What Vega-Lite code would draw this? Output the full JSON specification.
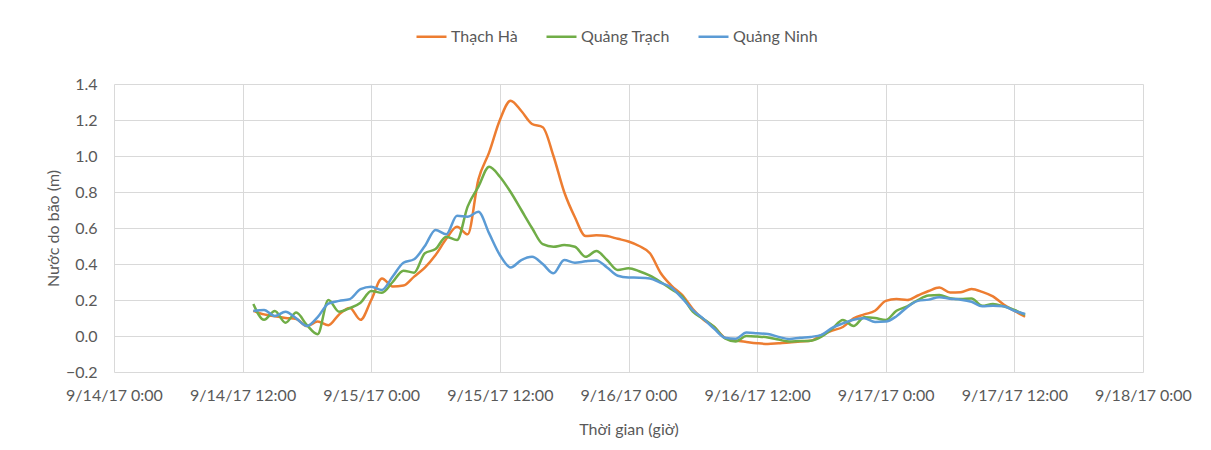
{
  "$schema": "https://vega.github.io/schema/vega-lite/v6.json",
  "width": 1029,
  "height": 288,
  "autosize": "none",
  "padding": {"left": 114, "top": 84, "right": 68, "bottom": 78},
  "background": "white",
  "config": {
    "font": "Lato",
    "view": {"stroke": null},
    "axis": {"labelFont": "Lato", "titleFont": "Lato", "labelColor": "#595959", "titleColor": "#595959", "labelFontSize": 16, "titleFontSize": 16, "titleFontWeight": "normal", "gridColor": "#d9d9d9", "gridWidth": 1, "domain": false, "ticks": false}
  },
  "data": {"values": [
    {"time":"2017-09-14T13:00","station":"Thạch Hà","level":0.14},
    {"time":"2017-09-14T14:00","station":"Thạch Hà","level":0.12},
    {"time":"2017-09-14T15:00","station":"Thạch Hà","level":0.11},
    {"time":"2017-09-14T16:00","station":"Thạch Hà","level":0.10},
    {"time":"2017-09-14T17:00","station":"Thạch Hà","level":0.095},
    {"time":"2017-09-14T18:00","station":"Thạch Hà","level":0.055},
    {"time":"2017-09-14T19:00","station":"Thạch Hà","level":0.08},
    {"time":"2017-09-14T20:00","station":"Thạch Hà","level":0.06},
    {"time":"2017-09-14T21:00","station":"Thạch Hà","level":0.12},
    {"time":"2017-09-14T22:00","station":"Thạch Hà","level":0.155},
    {"time":"2017-09-14T23:00","station":"Thạch Hà","level":0.09},
    {"time":"2017-09-15T00:00","station":"Thạch Hà","level":0.20},
    {"time":"2017-09-15T01:00","station":"Thạch Hà","level":0.32},
    {"time":"2017-09-15T02:00","station":"Thạch Hà","level":0.275},
    {"time":"2017-09-15T03:00","station":"Thạch Hà","level":0.28},
    {"time":"2017-09-15T04:00","station":"Thạch Hà","level":0.33},
    {"time":"2017-09-15T05:00","station":"Thạch Hà","level":0.38},
    {"time":"2017-09-15T06:00","station":"Thạch Hà","level":0.45},
    {"time":"2017-09-15T07:00","station":"Thạch Hà","level":0.54},
    {"time":"2017-09-15T08:00","station":"Thạch Hà","level":0.607},
    {"time":"2017-09-15T09:00","station":"Thạch Hà","level":0.565},
    {"time":"2017-09-15T10:00","station":"Thạch Hà","level":0.87},
    {"time":"2017-09-15T11:00","station":"Thạch Hà","level":1.02},
    {"time":"2017-09-15T12:00","station":"Thạch Hà","level":1.20},
    {"time":"2017-09-15T13:00","station":"Thạch Hà","level":1.307},
    {"time":"2017-09-15T14:00","station":"Thạch Hà","level":1.25},
    {"time":"2017-09-15T15:00","station":"Thạch Hà","level":1.178},
    {"time":"2017-09-15T16:00","station":"Thạch Hà","level":1.16},
    {"time":"2017-09-15T17:00","station":"Thạch Hà","level":1.00},
    {"time":"2017-09-15T18:00","station":"Thạch Hà","level":0.80},
    {"time":"2017-09-15T19:00","station":"Thạch Hà","level":0.66},
    {"time":"2017-09-15T20:00","station":"Thạch Hà","level":0.555},
    {"time":"2017-09-15T21:00","station":"Thạch Hà","level":0.56},
    {"time":"2017-09-15T22:00","station":"Thạch Hà","level":0.555},
    {"time":"2017-09-15T23:00","station":"Thạch Hà","level":0.54},
    {"time":"2017-09-16T00:00","station":"Thạch Hà","level":0.525},
    {"time":"2017-09-16T01:00","station":"Thạch Hà","level":0.50},
    {"time":"2017-09-16T02:00","station":"Thạch Hà","level":0.46},
    {"time":"2017-09-16T03:00","station":"Thạch Hà","level":0.35},
    {"time":"2017-09-16T04:00","station":"Thạch Hà","level":0.28},
    {"time":"2017-09-16T05:00","station":"Thạch Hà","level":0.228},
    {"time":"2017-09-16T06:00","station":"Thạch Hà","level":0.15},
    {"time":"2017-09-16T07:00","station":"Thạch Hà","level":0.09},
    {"time":"2017-09-16T08:00","station":"Thạch Hà","level":0.05},
    {"time":"2017-09-16T09:00","station":"Thạch Hà","level":-0.01},
    {"time":"2017-09-16T10:00","station":"Thạch Hà","level":-0.025},
    {"time":"2017-09-16T11:00","station":"Thạch Hà","level":-0.033},
    {"time":"2017-09-16T12:00","station":"Thạch Hà","level":-0.04},
    {"time":"2017-09-16T13:00","station":"Thạch Hà","level":-0.044},
    {"time":"2017-09-16T14:00","station":"Thạch Hà","level":-0.04},
    {"time":"2017-09-16T15:00","station":"Thạch Hà","level":-0.036},
    {"time":"2017-09-16T16:00","station":"Thạch Hà","level":-0.03},
    {"time":"2017-09-16T17:00","station":"Thạch Hà","level":-0.026},
    {"time":"2017-09-16T18:00","station":"Thạch Hà","level":0.005},
    {"time":"2017-09-16T19:00","station":"Thạch Hà","level":0.03},
    {"time":"2017-09-16T20:00","station":"Thạch Hà","level":0.05},
    {"time":"2017-09-16T21:00","station":"Thạch Hà","level":0.098},
    {"time":"2017-09-16T22:00","station":"Thạch Hà","level":0.12},
    {"time":"2017-09-16T23:00","station":"Thạch Hà","level":0.14},
    {"time":"2017-09-17T00:00","station":"Thạch Hà","level":0.195},
    {"time":"2017-09-17T01:00","station":"Thạch Hà","level":0.205},
    {"time":"2017-09-17T02:00","station":"Thạch Hà","level":0.20},
    {"time":"2017-09-17T03:00","station":"Thạch Hà","level":0.225},
    {"time":"2017-09-17T04:00","station":"Thạch Hà","level":0.25},
    {"time":"2017-09-17T05:00","station":"Thạch Hà","level":0.269},
    {"time":"2017-09-17T06:00","station":"Thạch Hà","level":0.241},
    {"time":"2017-09-17T07:00","station":"Thạch Hà","level":0.243},
    {"time":"2017-09-17T08:00","station":"Thạch Hà","level":0.261},
    {"time":"2017-09-17T09:00","station":"Thạch Hà","level":0.245},
    {"time":"2017-09-17T10:00","station":"Thạch Hà","level":0.22},
    {"time":"2017-09-17T11:00","station":"Thạch Hà","level":0.175},
    {"time":"2017-09-17T12:00","station":"Thạch Hà","level":0.14},
    {"time":"2017-09-17T13:00","station":"Thạch Hà","level":0.107},
    {"time":"2017-09-14T13:00","station":"Quảng Trạch","level":0.178},
    {"time":"2017-09-14T14:00","station":"Quảng Trạch","level":0.09},
    {"time":"2017-09-14T15:00","station":"Quảng Trạch","level":0.139},
    {"time":"2017-09-14T16:00","station":"Quảng Trạch","level":0.074},
    {"time":"2017-09-14T17:00","station":"Quảng Trạch","level":0.13},
    {"time":"2017-09-14T18:00","station":"Quảng Trạch","level":0.06},
    {"time":"2017-09-14T19:00","station":"Quảng Trạch","level":0.01},
    {"time":"2017-09-14T20:00","station":"Quảng Trạch","level":0.20},
    {"time":"2017-09-14T21:00","station":"Quảng Trạch","level":0.135},
    {"time":"2017-09-14T22:00","station":"Quảng Trạch","level":0.155},
    {"time":"2017-09-14T23:00","station":"Quảng Trạch","level":0.185},
    {"time":"2017-09-15T00:00","station":"Quảng Trạch","level":0.25},
    {"time":"2017-09-15T01:00","station":"Quảng Trạch","level":0.24},
    {"time":"2017-09-15T02:00","station":"Quảng Trạch","level":0.30},
    {"time":"2017-09-15T03:00","station":"Quảng Trạch","level":0.363},
    {"time":"2017-09-15T04:00","station":"Quảng Trạch","level":0.352},
    {"time":"2017-09-15T05:00","station":"Quảng Trạch","level":0.46},
    {"time":"2017-09-15T06:00","station":"Quảng Trạch","level":0.483},
    {"time":"2017-09-15T07:00","station":"Quảng Trạch","level":0.552},
    {"time":"2017-09-15T08:00","station":"Quảng Trạch","level":0.533},
    {"time":"2017-09-15T09:00","station":"Quảng Trạch","level":0.72},
    {"time":"2017-09-15T10:00","station":"Quảng Trạch","level":0.83},
    {"time":"2017-09-15T11:00","station":"Quảng Trạch","level":0.94},
    {"time":"2017-09-15T12:00","station":"Quảng Trạch","level":0.885},
    {"time":"2017-09-15T13:00","station":"Quảng Trạch","level":0.80},
    {"time":"2017-09-15T14:00","station":"Quảng Trạch","level":0.70},
    {"time":"2017-09-15T15:00","station":"Quảng Trạch","level":0.60},
    {"time":"2017-09-15T16:00","station":"Quảng Trạch","level":0.51},
    {"time":"2017-09-15T17:00","station":"Quảng Trạch","level":0.496},
    {"time":"2017-09-15T18:00","station":"Quảng Trạch","level":0.505},
    {"time":"2017-09-15T19:00","station":"Quảng Trạch","level":0.496},
    {"time":"2017-09-15T20:00","station":"Quảng Trạch","level":0.44},
    {"time":"2017-09-15T21:00","station":"Quảng Trạch","level":0.472},
    {"time":"2017-09-15T22:00","station":"Quảng Trạch","level":0.422},
    {"time":"2017-09-15T23:00","station":"Quảng Trạch","level":0.367},
    {"time":"2017-09-16T00:00","station":"Quảng Trạch","level":0.376},
    {"time":"2017-09-16T01:00","station":"Quảng Trạch","level":0.36},
    {"time":"2017-09-16T02:00","station":"Quảng Trạch","level":0.335},
    {"time":"2017-09-16T03:00","station":"Quảng Trạch","level":0.30},
    {"time":"2017-09-16T04:00","station":"Quảng Trạch","level":0.26},
    {"time":"2017-09-16T05:00","station":"Quảng Trạch","level":0.22},
    {"time":"2017-09-16T06:00","station":"Quảng Trạch","level":0.135},
    {"time":"2017-09-16T07:00","station":"Quảng Trạch","level":0.095},
    {"time":"2017-09-16T08:00","station":"Quảng Trạch","level":0.05},
    {"time":"2017-09-16T09:00","station":"Quảng Trạch","level":-0.013},
    {"time":"2017-09-16T10:00","station":"Quảng Trạch","level":-0.03},
    {"time":"2017-09-16T11:00","station":"Quảng Trạch","level":0.0},
    {"time":"2017-09-16T12:00","station":"Quảng Trạch","level":-0.003},
    {"time":"2017-09-16T13:00","station":"Quảng Trạch","level":-0.008},
    {"time":"2017-09-16T14:00","station":"Quảng Trạch","level":-0.02},
    {"time":"2017-09-16T15:00","station":"Quảng Trạch","level":-0.031},
    {"time":"2017-09-16T16:00","station":"Quảng Trạch","level":-0.028},
    {"time":"2017-09-16T17:00","station":"Quảng Trạch","level":-0.026},
    {"time":"2017-09-16T18:00","station":"Quảng Trạch","level":-0.004},
    {"time":"2017-09-16T19:00","station":"Quảng Trạch","level":0.04},
    {"time":"2017-09-16T20:00","station":"Quảng Trạch","level":0.089},
    {"time":"2017-09-16T21:00","station":"Quảng Trạch","level":0.056},
    {"time":"2017-09-16T22:00","station":"Quảng Trạch","level":0.104},
    {"time":"2017-09-16T23:00","station":"Quảng Trạch","level":0.10},
    {"time":"2017-09-17T00:00","station":"Quảng Trạch","level":0.089},
    {"time":"2017-09-17T01:00","station":"Quảng Trạch","level":0.14},
    {"time":"2017-09-17T02:00","station":"Quảng Trạch","level":0.165},
    {"time":"2017-09-17T03:00","station":"Quảng Trạch","level":0.20},
    {"time":"2017-09-17T04:00","station":"Quảng Trạch","level":0.225},
    {"time":"2017-09-17T05:00","station":"Quảng Trạch","level":0.228},
    {"time":"2017-09-17T06:00","station":"Quảng Trạch","level":0.21},
    {"time":"2017-09-17T07:00","station":"Quảng Trạch","level":0.205},
    {"time":"2017-09-17T08:00","station":"Quảng Trạch","level":0.209},
    {"time":"2017-09-17T09:00","station":"Quảng Trạch","level":0.168},
    {"time":"2017-09-17T10:00","station":"Quảng Trạch","level":0.178},
    {"time":"2017-09-17T11:00","station":"Quảng Trạch","level":0.165},
    {"time":"2017-09-17T12:00","station":"Quảng Trạch","level":0.145},
    {"time":"2017-09-17T13:00","station":"Quảng Trạch","level":0.117},
    {"time":"2017-09-14T13:00","station":"Quảng Ninh","level":0.139},
    {"time":"2017-09-14T14:00","station":"Quảng Ninh","level":0.145},
    {"time":"2017-09-14T15:00","station":"Quảng Ninh","level":0.111},
    {"time":"2017-09-14T16:00","station":"Quảng Ninh","level":0.135},
    {"time":"2017-09-14T17:00","station":"Quảng Ninh","level":0.098},
    {"time":"2017-09-14T18:00","station":"Quảng Ninh","level":0.056},
    {"time":"2017-09-14T19:00","station":"Quảng Ninh","level":0.105},
    {"time":"2017-09-14T20:00","station":"Quảng Ninh","level":0.18},
    {"time":"2017-09-14T21:00","station":"Quảng Ninh","level":0.195},
    {"time":"2017-09-14T22:00","station":"Quảng Ninh","level":0.205},
    {"time":"2017-09-14T23:00","station":"Quảng Ninh","level":0.26},
    {"time":"2017-09-15T00:00","station":"Quảng Ninh","level":0.274},
    {"time":"2017-09-15T01:00","station":"Quảng Ninh","level":0.256},
    {"time":"2017-09-15T02:00","station":"Quảng Ninh","level":0.33},
    {"time":"2017-09-15T03:00","station":"Quảng Ninh","level":0.407},
    {"time":"2017-09-15T04:00","station":"Quảng Ninh","level":0.426},
    {"time":"2017-09-15T05:00","station":"Quảng Ninh","level":0.50},
    {"time":"2017-09-15T06:00","station":"Quảng Ninh","level":0.589},
    {"time":"2017-09-15T07:00","station":"Quảng Ninh","level":0.565},
    {"time":"2017-09-15T08:00","station":"Quảng Ninh","level":0.668},
    {"time":"2017-09-15T09:00","station":"Quảng Ninh","level":0.663},
    {"time":"2017-09-15T10:00","station":"Quảng Ninh","level":0.69},
    {"time":"2017-09-15T11:00","station":"Quảng Ninh","level":0.57},
    {"time":"2017-09-15T12:00","station":"Quảng Ninh","level":0.45},
    {"time":"2017-09-15T13:00","station":"Quảng Ninh","level":0.381},
    {"time":"2017-09-15T14:00","station":"Quảng Ninh","level":0.422},
    {"time":"2017-09-15T15:00","station":"Quảng Ninh","level":0.44},
    {"time":"2017-09-15T16:00","station":"Quảng Ninh","level":0.40},
    {"time":"2017-09-15T17:00","station":"Quảng Ninh","level":0.348},
    {"time":"2017-09-15T18:00","station":"Quảng Ninh","level":0.422},
    {"time":"2017-09-15T19:00","station":"Quảng Ninh","level":0.407},
    {"time":"2017-09-15T20:00","station":"Quảng Ninh","level":0.415},
    {"time":"2017-09-15T21:00","station":"Quảng Ninh","level":0.42},
    {"time":"2017-09-15T22:00","station":"Quảng Ninh","level":0.381},
    {"time":"2017-09-15T23:00","station":"Quảng Ninh","level":0.335},
    {"time":"2017-09-16T00:00","station":"Quảng Ninh","level":0.325},
    {"time":"2017-09-16T01:00","station":"Quảng Ninh","level":0.324},
    {"time":"2017-09-16T02:00","station":"Quảng Ninh","level":0.32},
    {"time":"2017-09-16T03:00","station":"Quảng Ninh","level":0.295},
    {"time":"2017-09-16T04:00","station":"Quảng Ninh","level":0.27},
    {"time":"2017-09-16T05:00","station":"Quảng Ninh","level":0.21},
    {"time":"2017-09-16T06:00","station":"Quảng Ninh","level":0.144},
    {"time":"2017-09-16T07:00","station":"Quảng Ninh","level":0.095},
    {"time":"2017-09-16T08:00","station":"Quảng Ninh","level":0.04},
    {"time":"2017-09-16T09:00","station":"Quảng Ninh","level":-0.01},
    {"time":"2017-09-16T10:00","station":"Quảng Ninh","level":-0.015},
    {"time":"2017-09-16T11:00","station":"Quảng Ninh","level":0.019},
    {"time":"2017-09-16T12:00","station":"Quảng Ninh","level":0.015},
    {"time":"2017-09-16T13:00","station":"Quảng Ninh","level":0.011},
    {"time":"2017-09-16T14:00","station":"Quảng Ninh","level":-0.005},
    {"time":"2017-09-16T15:00","station":"Quảng Ninh","level":-0.017},
    {"time":"2017-09-16T16:00","station":"Quảng Ninh","level":-0.01},
    {"time":"2017-09-16T17:00","station":"Quảng Ninh","level":-0.005},
    {"time":"2017-09-16T18:00","station":"Quảng Ninh","level":0.006},
    {"time":"2017-09-16T19:00","station":"Quảng Ninh","level":0.045},
    {"time":"2017-09-16T20:00","station":"Quảng Ninh","level":0.07},
    {"time":"2017-09-16T21:00","station":"Quảng Ninh","level":0.09},
    {"time":"2017-09-16T22:00","station":"Quảng Ninh","level":0.098},
    {"time":"2017-09-16T23:00","station":"Quảng Ninh","level":0.078},
    {"time":"2017-09-17T00:00","station":"Quảng Ninh","level":0.08},
    {"time":"2017-09-17T01:00","station":"Quảng Ninh","level":0.11},
    {"time":"2017-09-17T02:00","station":"Quảng Ninh","level":0.16},
    {"time":"2017-09-17T03:00","station":"Quảng Ninh","level":0.195},
    {"time":"2017-09-17T04:00","station":"Quảng Ninh","level":0.202},
    {"time":"2017-09-17T05:00","station":"Quảng Ninh","level":0.215},
    {"time":"2017-09-17T06:00","station":"Quảng Ninh","level":0.207},
    {"time":"2017-09-17T07:00","station":"Quảng Ninh","level":0.202},
    {"time":"2017-09-17T08:00","station":"Quảng Ninh","level":0.19},
    {"time":"2017-09-17T09:00","station":"Quảng Ninh","level":0.165},
    {"time":"2017-09-17T10:00","station":"Quảng Ninh","level":0.168},
    {"time":"2017-09-17T11:00","station":"Quảng Ninh","level":0.165},
    {"time":"2017-09-17T12:00","station":"Quảng Ninh","level":0.14},
    {"time":"2017-09-17T13:00","station":"Quảng Ninh","level":0.122}
  ]},
  "mark": {"type": "line", "interpolate": "monotone", "strokeWidth": 2.5, "clip": true},
  "encoding": {
    "x": {
      "field": "time", "type": "temporal",
      "scale": {"domain": [{"year": 2017, "month": 9, "date": 14, "hours": 0}, {"year": 2017, "month": 9, "date": 18, "hours": 0}], "nice": false},
      "axis": {"format": "%-m/%-d/%y %-H:%M", "tickCount": 8, "labelPadding": 15, "labelFlush": false, "labelOverlap": false, "title": "Thời gian (giờ)", "titlePadding": 18}
    },
    "y": {
      "field": "level", "type": "quantitative",
      "scale": {"domain": [-0.2, 1.4], "nice": false, "zero": false},
      "axis": {"values": [-0.2, 0, 0.2, 0.4, 0.6, 0.8, 1.0, 1.2, 1.4], "format": ".1f", "labelPadding": 17, "title": "Nước do bão (m)", "titlePadding": 4}
    },
    "color": {
      "field": "station", "type": "nominal",
      "scale": {"domain": ["Thạch Hà", "Quảng Trạch", "Quảng Ninh"], "range": ["#ED7D31", "#70AD47", "#5B9BD5"]},
      "legend": {"title": null, "orient": "none", "direction": "horizontal", "legendX": 301, "legendY": -64, "symbolType": "stroke", "symbolSize": 900, "symbolStrokeWidth": 2.5, "labelFont": "Lato", "labelFontSize": 16, "labelColor": "#595959", "labelOffset": 3, "columnPadding": 23}
    }
  }
}
